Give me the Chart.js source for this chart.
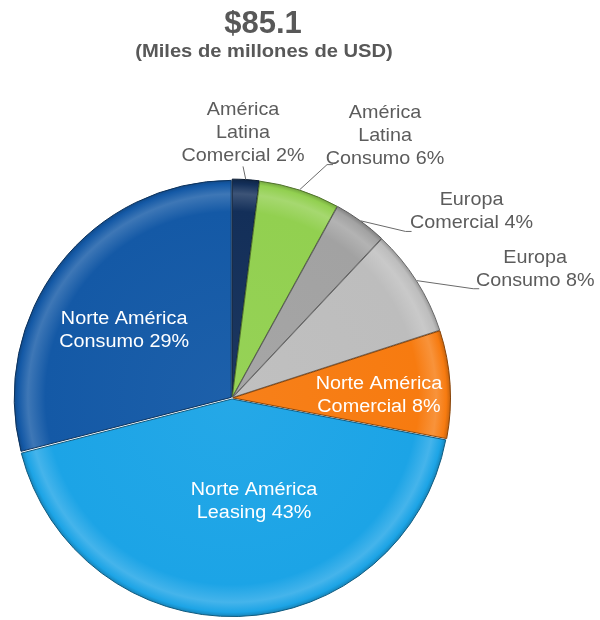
<!DOCTYPE html>
<html lang="es">
<head>
<meta charset="utf-8">
<title>Cartera por región</title>
<script src="https://cdn.jsdelivr.net/npm/chart.js@4.4.1/dist/chart.umd.min.js"></script>
<style>
  html, body { margin: 0; padding: 0; background: #ffffff; }
  #wrap { width: 600px; height: 620px; position: relative; }
</style>
</head>
<body>
<div id="wrap"><canvas id="pie" width="600" height="620"></canvas></div>
<script>
// Portfolio composition by region and product
const totalLabel = '$85.1';
const unitLabel = '(Miles de millones de USD)';

const categories = [
  'América Latina Comercial',
  'América Latina Consumo',
  'Europa Comercial',
  'Europa Consumo',
  'Norte América Comercial',
  'Norte América Leasing',
  'Norte América Consumo'
];
const shares = [2, 6, 4, 8, 8, 43, 29];
// label text split into lines; the share is appended to the last line
const nameLines = [
  ['América', 'Latina', 'Comercial'],
  ['América', 'Latina', 'Consumo'],
  ['Europa', 'Comercial'],
  ['Europa', 'Consumo'],
  ['Norte América', 'Comercial'],
  ['Norte América', 'Leasing'],
  ['Norte América', 'Consumo']
];
const sliceColors = ['#132f59', '#92d050', '#a2a2a2', '#bdbdbd', '#f77b10', '#1ca4e6', '#1459a6'];

// where each label sits: point on the mid-angle at radius fraction f, then nudged
const labelLayout = [
  { f: 1.0, dx: -2.6, dy: -49, inside: false, leader: { ex: 0, ey: 34, tick: 0 } },
  { f: 1.0, dx: 86, dy: -56, inside: false, leader: { ex: -58, ey: 29, tick: 6 } },
  { f: 1.0, dx: 112, dy: -11, inside: false, leader: { ex: -66, ey: 20, tick: 6 } },
  { f: 1.0, dx: 120, dy: -12, inside: false, leader: { ex: -62, ey: 19, tick: 6 } },
  { f: 0.6, dx: 17, dy: 6, inside: true },
  { f: 0.6, dx: 18, dy: -27, inside: true },
  { f: 0.6, dx: -5, dy: 12, inside: true }
];

const FONT = '"Liberation Sans", Arial, sans-serif';

function shade(hex, amt) {
  const n = parseInt(hex.slice(1), 16);
  let r = (n >> 16) & 255, g = (n >> 8) & 255, b = n & 255;
  const t = amt < 0 ? 0 : 255, p = Math.abs(amt);
  r = Math.round((t - r) * p + r);
  g = Math.round((t - g) * p + g);
  b = Math.round((t - b) * p + b);
  return `rgb(${r},${g},${b})`;
}

// bevelled fill: flat body, light band near the rim, dark outer edge
function bevelFill(ctx) {
  const base = sliceColors[ctx.dataIndex];
  const chart = ctx.chart;
  const area = chart.chartArea;
  if (!area) return base;
  const cx = (area.left + area.right) / 2;
  const cy = (area.top + area.bottom) / 2;
  const R = chart.options.radiusPx || 217;
  const g = chart.ctx.createRadialGradient(cx, cy, 0, cx, cy, R + 4);
  g.addColorStop(0, shade(base, 0.04));
  g.addColorStop(0.84, base);
  g.addColorStop(0.92, shade(base, 0.18));
  g.addColorStop(0.965, base);
  g.addColorStop(1, shade(base, -0.35));
  return g;
}

function stretchedText(ctx, text, x, y, sx) {
  ctx.save();
  ctx.translate(x, y);
  ctx.scale(sx, 1);
  ctx.fillText(text, 0, 0);
  ctx.restore();
}

const labelPlugin = {
  id: 'sliceLabels',
  afterDraw(chart) {
    const ctx = chart.ctx;
    const arcs = chart.getDatasetMeta(0).data;

    // heading
    ctx.save();
    ctx.fillStyle = '#585858';
    ctx.textAlign = 'center';
    ctx.textBaseline = 'alphabetic';
    ctx.font = `bold 31px ${FONT}`;
    stretchedText(ctx, totalLabel, 263, 33, 1.0);
    ctx.font = `bold 18px ${FONT}`;
    stretchedText(ctx, unitLabel, 264, 57, 1.12);
    ctx.restore();

    arcs.forEach((arc, i) => {
      const lay = labelLayout[i];
      const mid = (arc.startAngle + arc.endAngle) / 2;
      const r = arc.outerRadius * lay.f;
      const ax = arc.x + Math.cos(mid) * r;
      const ay = arc.y + Math.sin(mid) * r;
      const tx = ax + lay.dx;
      const ty = ay + lay.dy;
      const lines = nameLines[i].slice();
      lines[lines.length - 1] += ' ' + shares[i] + '%';
      const lh = 23;
      const top = ty - (lines.length - 1) * lh / 2;

      ctx.save();
      if (!lay.inside && lay.leader) {
        const ex = tx + lay.leader.ex;
        const ey = ty + lay.leader.ey;
        const sx0 = arc.x + Math.cos(mid) * (arc.outerRadius + 2);
        const sy0 = arc.y + Math.sin(mid) * (arc.outerRadius + 2);
        ctx.strokeStyle = '#6a6a6a';
        ctx.lineWidth = 1;
        ctx.beginPath();
        ctx.moveTo(sx0, sy0);
        ctx.lineTo(ex, ey);
        if (lay.leader.tick) ctx.lineTo(ex + lay.leader.tick, ey);
        ctx.stroke();
      }
      ctx.textAlign = 'center';
      ctx.textBaseline = 'middle';
      if (lay.inside) {
        ctx.fillStyle = '#ffffff';
        ctx.font = `18px ${FONT}`;
      } else {
        ctx.fillStyle = '#5c5c5c';
        ctx.font = `19px ${FONT}`;
      }
      const sx = lay.inside ? 1.1 : 1.04;
      lines.forEach((ln, k) => stretchedText(ctx, ln, tx, top + k * lh, sx));
      ctx.restore();
    });
  }
};

new Chart(document.getElementById('pie'), {
  type: 'pie',
  data: {
    labels: categories,
    datasets: [{
      data: shares,
      backgroundColor: bevelFill,
      borderColor: sliceColors.map(c => shade(c, -0.45)),
      borderWidth: 1,
      offset: 4,
      hoverOffset: 0
    }]
  },
  options: {
    responsive: false,
    animation: false,
    radius: 217,
    radiusPx: 217,
    rotation: 0,
    layout: { padding: { left: 0, right: 136, top: 180, bottom: 4 } },
    plugins: {
      legend: { display: false },
      tooltip: { enabled: false },
      title: { display: false }
    }
  },
  plugins: [labelPlugin]
});
</script>
</body>
</html>
